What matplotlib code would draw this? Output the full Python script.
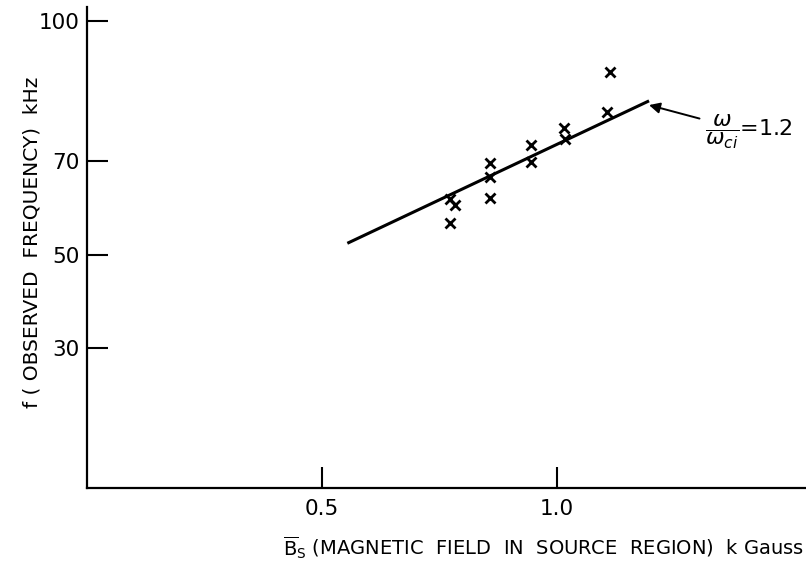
import matplotlib.pyplot as plt

# data (B in kGauss, f in kHz)
field_x = [0.773, 0.783, 0.773, 0.858, 0.858, 0.858, 0.944, 0.944, 1.015, 1.018, 1.107, 1.112]
freq_y = [61.8, 60.7, 56.7, 69.7, 66.5, 62.0, 73.5, 69.8, 77.0, 74.7, 80.5, 89.0]

# fitted line for omega/omega_ci = 1.2
line_x = [0.554, 1.196]
line_y = [52.4, 82.9]

x_ticks = [0.5, 1.0]
x_tick_labels = ['0.5', '1.0']
y_ticks = [30, 50, 70, 100]

plt.rcParams['font.family'] = ['DejaVu Sans']

fig = plt.figure(figsize=(8.06, 5.67), dpi=100)
ax = fig.add_axes([87 / 806, 79 / 567, 719 / 806, 481 / 567])

ax.plot(line_x, line_y, color='black', lw=2.2, solid_capstyle='butt')
ax.plot(field_x, freq_y, 'x', color='black', ms=7.5, mew=2)

ax.set_xlim(0, 1.53)
ax.set_ylim(0, 103)
ax.spines['top'].set_visible(False)
ax.spines['right'].set_visible(False)
ax.spines['left'].set_linewidth(1.6)
ax.spines['bottom'].set_linewidth(1.6)

ax.set_xticks(x_ticks)
ax.set_xticklabels(x_tick_labels)
ax.set_yticks(y_ticks)
ax.tick_params(direction='in', length=15, width=1.5, labelsize=15.5)
ax.tick_params(axis='x', pad=8)
ax.tick_params(axis='y', pad=5)

ax.set_ylabel('f ( OBSERVED  FREQUENCY)  kHz', fontsize=14.5, va='center')
ax.yaxis.set_label_coords(-0.077, 0.51)
ax.set_xlabel(r'$\overline{\mathrm{B}}_{\mathrm{S}}$ (MAGNETIC  FIELD  IN  SOURCE  REGION)  k Gauss',
              fontsize=14, va='center')
ax.xaxis.set_label_coords(0.635, -0.125)

ax.annotate(r'$\dfrac{\omega}{\omega_{ci}}$=1.2', xy=(1.196, 82.0), xytext=(1.315, 76.3),
            fontsize=16, va='center',
            arrowprops=dict(arrowstyle='-|>', color='black', lw=1.4, shrinkA=2, shrinkB=0))

fig.savefig('out.png', dpi=100)
